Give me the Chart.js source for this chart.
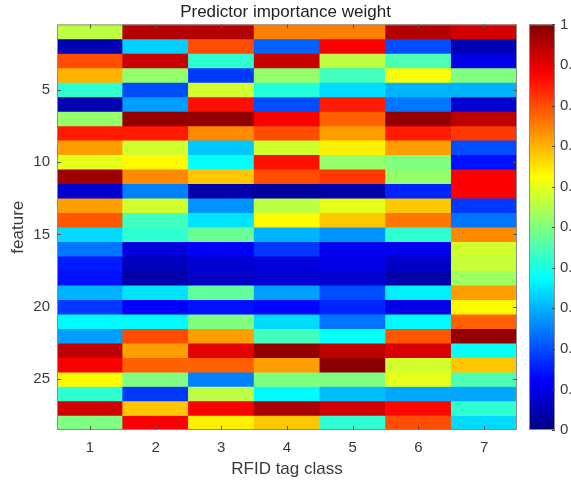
<!DOCTYPE html>
<html>
<head>
<meta charset="utf-8">
<script src="https://cdn.jsdelivr.net/npm/chart.js@4"></script>
<style>
  body { margin: 0; background: #fff; }
</style>
</head>
<body>
<canvas id="myChart" width="571" height="480"></canvas>
<script>
var classLabels = ["1", "2", "3", "4", "5", "6", "7"];
var featureTicks = [5, 10, 15, 20, 25];
var colorbarTicks = [0, 0.1, 0.2, 0.3, 0.4, 0.5, 0.6, 0.7, 0.8, 0.9, 1];

// one row per feature (1..28), one value per RFID tag class (1..7)
var weights = [
    [0.56, 0.95, 0.95, 0.75, 0.75, 0.95, 0.92],
    [0.05, 0.33, 0.80, 0.22, 0.88, 0.20, 0.05],
    [0.80, 0.93, 0.42, 0.93, 0.56, 0.45, 0.10],
    [0.70, 0.52, 0.18, 0.52, 0.44, 0.62, 0.50],
    [0.42, 0.20, 0.58, 0.41, 0.34, 0.30, 0.30],
    [0.05, 0.28, 0.86, 0.20, 0.85, 0.24, 0.08],
    [0.52, 0.98, 0.98, 0.88, 0.78, 0.98, 0.94],
    [0.85, 0.85, 0.74, 0.80, 0.72, 0.85, 0.82],
    [0.72, 0.58, 0.32, 0.58, 0.64, 0.72, 0.20],
    [0.60, 0.63, 0.38, 0.86, 0.52, 0.50, 0.14],
    [0.97, 0.74, 0.68, 0.80, 0.82, 0.52, 0.88],
    [0.08, 0.25, 0.04, 0.03, 0.04, 0.16, 0.88],
    [0.72, 0.58, 0.27, 0.56, 0.60, 0.68, 0.18],
    [0.79, 0.44, 0.35, 0.63, 0.68, 0.76, 0.24],
    [0.34, 0.42, 0.48, 0.30, 0.27, 0.42, 0.74],
    [0.24, 0.09, 0.12, 0.18, 0.11, 0.11, 0.58],
    [0.15, 0.06, 0.08, 0.09, 0.10, 0.07, 0.57],
    [0.14, 0.04, 0.07, 0.08, 0.08, 0.04, 0.53],
    [0.30, 0.35, 0.47, 0.28, 0.20, 0.36, 0.72],
    [0.18, 0.12, 0.14, 0.13, 0.16, 0.10, 0.63],
    [0.37, 0.37, 0.50, 0.34, 0.24, 0.37, 0.78],
    [0.28, 0.80, 0.72, 0.44, 0.38, 0.79, 0.98],
    [0.94, 0.72, 0.90, 0.98, 0.94, 0.91, 0.38],
    [0.88, 0.78, 0.78, 0.72, 0.99, 0.58, 0.68],
    [0.63, 0.50, 0.25, 0.50, 0.50, 0.60, 0.45],
    [0.42, 0.18, 0.56, 0.37, 0.31, 0.29, 0.29],
    [0.92, 0.68, 0.88, 0.96, 0.92, 0.87, 0.42],
    [0.50, 0.88, 0.64, 0.68, 0.42, 0.80, 0.34]
];

var textColor = "#3a3a3a";
var fontFamily = "'Liberation Sans', Arial, sans-serif";

// MATLAB jet colormap
function jet(v) {
    function clamp(x) { return Math.max(0, Math.min(1, x)); }
    var r = clamp(Math.min(4 * v - 1.5, -4 * v + 4.5));
    var g = clamp(Math.min(4 * v - 0.5, -4 * v + 3.5));
    var b = clamp(Math.min(4 * v + 0.5, -4 * v + 2.5));
    return "rgb(" + Math.round(r * 255) + "," + Math.round(g * 255) + "," + Math.round(b * 255) + ")";
}

var datasets = weights.map(function (row, i) {
    return {
        label: "feature " + (i + 1),
        data: classLabels.map(function () {
            return [i + 0.5, i + 1.5];
        }),
        backgroundColor: row.map(jet),
        borderWidth: 0,
        xAxisID: "x",
        yAxisID: "y"
    };
});

var frame = {
    id: "frame",
    afterDatasetsDraw: function (chart) {
        var ctx = chart.ctx;
        var area = chart.chartArea;
        var x = chart.scales.x;
        var y = chart.scales.y;
        var cb = chart.scales.cb;
        ctx.save();
        ctx.strokeStyle = "#8c8c8c";
        ctx.lineWidth = 1;
        ctx.strokeRect(area.left + 0.5, area.top + 0.5, area.right - area.left - 1, area.bottom - area.top - 1);
        ctx.strokeStyle = "#555";
        ctx.beginPath();
        classLabels.forEach(function (c, i) {
            var px = Math.round(x.getPixelForValue(i)) + 0.5;
            ctx.moveTo(px, area.bottom); ctx.lineTo(px, area.bottom - 4);
            ctx.moveTo(px, area.top); ctx.lineTo(px, area.top + 4);
        });
        featureTicks.forEach(function (v) {
            var py = Math.round(y.getPixelForValue(v)) + 0.5;
            ctx.moveTo(area.left, py); ctx.lineTo(area.left + 4, py);
            ctx.moveTo(area.right, py); ctx.lineTo(area.right - 4, py);
        });
        ctx.stroke();

        // colorbar
        var left = area.right + 12;
        var w = 26;
        var top = cb.getPixelForValue(1);
        var bottom = cb.getPixelForValue(0);
        var grad = ctx.createLinearGradient(0, bottom, 0, top);
        [0, 0.125, 0.375, 0.625, 0.875, 1].forEach(function (s) {
            grad.addColorStop(s, jet(s));
        });
        ctx.fillStyle = grad;
        ctx.fillRect(left, top, w, bottom - top);
        ctx.strokeStyle = "#8c8c8c";
        ctx.strokeRect(left + 0.5, top + 0.5, w - 1, bottom - top - 1);
        ctx.strokeStyle = "#444";
        ctx.beginPath();
        colorbarTicks.forEach(function (v) {
            var py = Math.round(cb.getPixelForValue(v)) + 0.5;
            ctx.moveTo(left + w, py); ctx.lineTo(left + w - 3, py);
        });
        ctx.stroke();
        ctx.restore();
    }
};

var ctx = document.getElementById("myChart").getContext("2d");
var myChart = new Chart(ctx, {
    type: "bar",
    data: {
        labels: classLabels,
        datasets: datasets
    },
    options: {
        responsive: false,
        animation: false,
        layout: { padding: { top: 0, right: 0, bottom: 0, left: 0 } },
        datasets: {
            bar: {
                grouped: false,
                barPercentage: 1,
                categoryPercentage: 1
            }
        },
        plugins: {
            legend: { display: false },
            tooltip: { enabled: false },
            title: {
                display: true,
                text: "Predictor importance weight",
                color: "#222",
                font: { family: fontFamily, size: 17, weight: "normal" },
                padding: { top: 2, bottom: 2 }
            }
        },
        scales: {
            x: {
                type: "category",
                offset: true,
                grid: { display: false, drawTicks: false },
                border: { display: false },
                ticks: {
                    color: textColor,
                    padding: 9,
                    font: { family: fontFamily, size: 15 }
                },
                title: {
                    display: true,
                    text: "RFID tag class",
                    color: textColor,
                    font: { family: fontFamily, size: 17 },
                    padding: { top: 2, bottom: 0 }
                },
                afterFit: function (scale) { scale.height = 50; }
            },
            y: {
                type: "linear",
                min: 0.5,
                max: 28.5,
                reverse: true,
                grid: { display: false, drawTicks: false },
                border: { display: false },
                afterBuildTicks: function (scale) {
                    scale.ticks = featureTicks.map(function (v) { return { value: v }; });
                },
                ticks: {
                    color: textColor,
                    padding: 7,
                    font: { family: fontFamily, size: 15 }
                },
                title: {
                    display: true,
                    text: "feature",
                    color: textColor,
                    font: { family: fontFamily, size: 17 },
                    padding: { top: 8, bottom: 0 }
                },
                afterFit: function (scale) { scale.width = 57; }
            },
            cb: {
                type: "linear",
                axis: "y",
                position: "right",
                min: 0,
                max: 1,
                // invisible tick marks only push the labels past the colour bar
                grid: {
                    drawOnChartArea: false,
                    drawTicks: true,
                    tickLength: 38,
                    color: "rgba(0,0,0,0)"
                },
                border: { display: false },
                afterBuildTicks: function (scale) {
                    scale.ticks = colorbarTicks.map(function (v) { return { value: v }; });
                },
                ticks: {
                    color: textColor,
                    padding: 5,
                    autoSkip: false,
                    font: { family: fontFamily, size: 15 },
                    callback: function (v) { return String(Math.round(v * 10) / 10); }
                },
                afterFit: function (scale) { scale.width = 54; }
            }
        }
    },
    plugins: [frame]
});
</script>
</body>
</html>
